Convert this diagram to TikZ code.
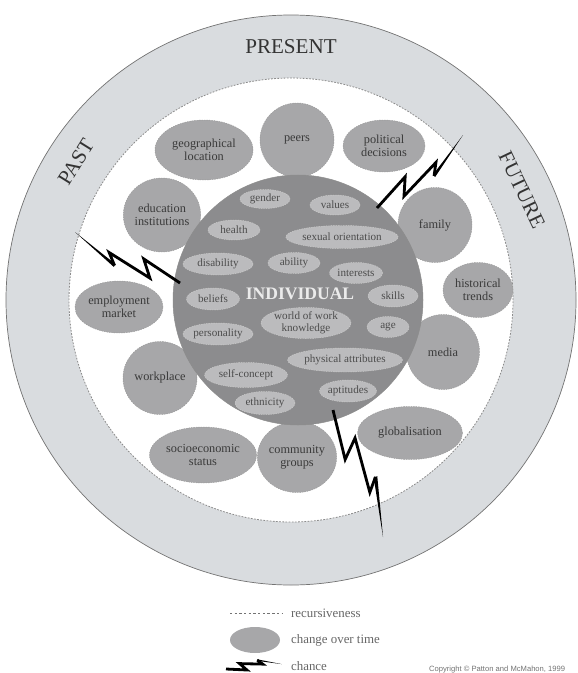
\documentclass[tikz,border=0pt]{standalone}
\usepackage{fontspec}
\setmainfont{Liberation Serif}
\newfontfamily\notesans{Liberation Sans}
\usetikzlibrary{shapes.geometric}
\definecolor{ringgray}{HTML}{D9DCDF}
\definecolor{factorgray}{HTML}{A7A7A9}
\definecolor{selfgray}{HTML}{8C8C8E}
\definecolor{traitgray}{HTML}{BBBBBD}
\definecolor{inkgray}{HTML}{3A3A3A}
\tikzset{
	factor/.style={
			ellipse, draw=black!40, dash pattern=on 1.2pt off 0.9pt, fill=factorgray,
			inner sep=0pt, align=center, text=inkgray, font=\fontsize{10.5}{11}\selectfont
		},
	trait/.style={
			ellipse, draw=white!80!black, dash pattern=on 1.2pt off 0.9pt, fill=traitgray,
			inner sep=0pt, align=center, text=black!70, font=\fontsize{9.5}{10}\selectfont
		},
	timeword/.style={font=\fontsize{18}{18}\selectfont, text=black!80},
	legendtext/.style={anchor=west, text=black!60, font=\fontsize{11}{11}\selectfont},
	chancebolt/.pic={
			\draw[line width=2.4pt, line join=miter, miter limit=5] (0,0) -- (0.37,-0.05) -- (0.25,0.075) -- (0.66,0.03) -- (0.57,0.11);
			\fill (0.57,0.124) -- (1,0) -- (0.57,0.096) -- cycle;
		}
}

\begin{document}
\begin{tikzpicture}[x=0.03cm, y=0.03cm]
        \useasboundingbox (0,0) rectangle (577,-673);
        \coordinate (ctr) at (291,-300);

        % Time ring
        \fill[ringgray] (ctr) circle (285);
        \draw[black!55, line width=0.6pt] (ctr) circle (285);
        \fill[white] (ctr) circle (222);
        \draw[black!45, line width=0.7pt, dash pattern=on 1.5pt off 1.2pt] (ctr) circle (222);

        \node[timeword] (present) at (291,-47) {PRESENT};
        \node[timeword, rotate=58] (past) at (76,-162) {PAST};
        \node[timeword, rotate=-64.5] (future) at (522,-190) {FUTURE};

        % Societal and environmental system
        \node[factor, minimum width=2.94cm, minimum height=1.8cm] (geo) at (204,-150) {geographical\\location};
        \node[factor, minimum width=2.22cm, minimum height=2.22cm] (peers) at (297,-140) {peers};
        \node[factor, minimum width=2.46cm, minimum height=1.56cm] (political) at (384,-146) {political\\decisions};
        \node[factor, minimum width=2.16cm, minimum height=2.22cm] (education) at (162,-215) {education\\institutions};
        \node[factor, minimum width=2.22cm, minimum height=2.25cm] (family) at (435,-225) {family};
        \node[factor, minimum width=2.1cm, minimum height=1.65cm] (historical) at (478,-290) {historical\\trends};
        \node[factor, minimum width=2.64cm, minimum height=1.56cm] (employ) at (119,-307) {employment\\market};
        \node[factor, minimum width=2.22cm, minimum height=2.19cm] (workplace) at (160,-378) {workplace};
        \node[factor, minimum width=2.19cm, minimum height=2.25cm] (media) at (443,-352) {media};
        \node[factor, minimum width=3.15cm, minimum height=1.59cm] (global) at (410,-433) {globalisation};
        \node[factor, minimum width=2.25cm, minimum height=2.13cm] (community) at (297,-457) {community\\groups};
        \node[factor, minimum width=3.21cm, minimum height=1.68cm] (socio) at (203,-455) {socioeconomic\\status};

        % Individual system
        \node[circle, draw=black!45, fill=selfgray, minimum size=7.5cm, inner sep=0pt] (self) at (298,-300) {};
        \node[trait, minimum width=1.5cm, minimum height=0.57cm] (gender) at (265,-199) {gender};
        \node[trait, minimum width=1.5cm, minimum height=0.6cm] (values) at (335,-205) {values};
        \node[trait, minimum width=1.56cm, minimum height=0.6cm] (health) at (234,-230) {health};
        \node[trait, minimum width=2.94cm, minimum height=0.69cm] (sexual) at (342,-237) {sexual orientation};
        \node[trait, minimum width=2.1cm, minimum height=0.66cm] (disability) at (218,-264) {disability};
        \node[trait, minimum width=1.56cm, minimum height=0.63cm] (ability) at (294,-263) {ability};
        \node[trait, minimum width=1.59cm, minimum height=0.63cm] (interests) at (356,-273) {interests};
        \node[trait, minimum width=1.59cm, minimum height=0.66cm] (beliefs) at (213,-299) {beliefs};
        \node[trait, minimum width=1.5cm, minimum height=0.66cm] (skills) at (393,-296) {skills};
        \node[trait, minimum width=2.61cm, minimum height=0.81cm] (worldwork) at (306,-323) {world of work\\knowledge};
        \node[trait, minimum width=1.26cm, minimum height=0.63cm] (age) at (388,-327) {age};
        \node[trait, minimum width=2.1cm, minimum height=0.66cm] (personality) at (218,-334) {personality};
        \node[trait, minimum width=2.88cm, minimum height=0.72cm] (physical) at (345,-360) {physical attributes};
        \node[trait, minimum width=2.49cm, minimum height=0.75cm] (selfconcept) at (246,-375) {self-concept};
        \node[trait, minimum width=1.71cm, minimum height=0.66cm] (aptitudes) at (348,-391) {aptitudes};
        \node[trait, minimum width=1.8cm, minimum height=0.69cm] (ethnicity) at (265,-403) {ethnicity};
        \node[text=white!92!black, font=\bfseries\fontsize{15}{15}\selectfont] (individual) at (300,-294) {INDIVIDUAL};

        % Chance
        \pic[rotate=154.1, scale=116.7] at (180,-283) {chancebolt};
        \pic[rotate=40.3, scale=112.8, yscale=-1] at (377,-208) {chancebolt};
        \pic[rotate=-68.5, scale=136.5] at (333,-410) {chancebolt};

        % Legend
        \coordinate (recA) at (230,-613);
        \coordinate (recB) at (282,-613);
        \draw[black!55, line width=0.6pt, dash pattern=on 2pt off 2pt] (recA) -- (recB);
        \node[legendtext] (rectext) at (287,-613) {recursiveness};
        \node[ellipse, fill=factorgray, minimum width=1.5cm, minimum height=0.78cm, inner sep=0pt] (changekey) at (255,-640) {};
        \node[legendtext] (changetext) at (287,-640) {change over time};
        \pic[rotate=5, scale=56] at (226,-669) {chancebolt};
        \node[legendtext] (chancetext) at (287,-666) {chance};
        \node[anchor=west, text=black!55, font=\notesans\fontsize{6.5}{6.5}\selectfont] (copy) at (425,-670) {Copyright \textcopyright\ Patton and McMahon, 1999};
    \end{tikzpicture}
\end{document}
